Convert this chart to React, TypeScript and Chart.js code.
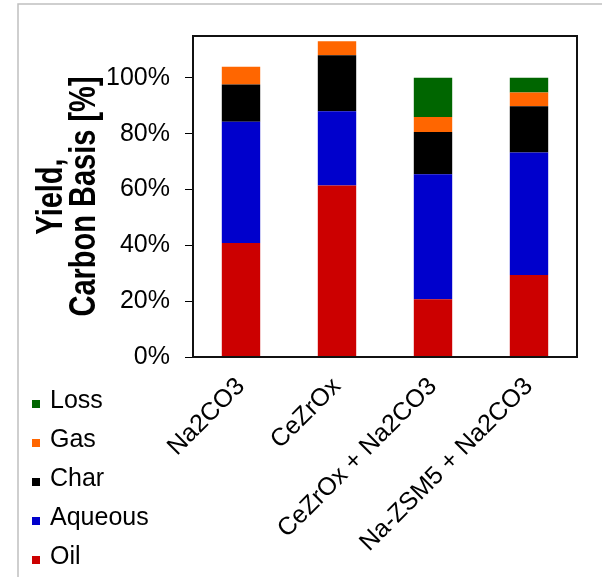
import React, { useEffect, useRef } from "react";
import { Chart, registerables } from "chart.js";

Chart.register(...registerables);

const categories = ["Na2CO3", "CeZrOx", "CeZrOx + Na2CO3", "Na-ZSM5 + Na2CO3"];
const oil = [40.8, 61.4, 20.7, 29.4];
const aqueous = [43.5, 26.6, 44.8, 43.9];
const char = [13.3, 20.1, 15.1, 16.5];
const gas = [6.4, 5.0, 5.4, 5.0];
const loss = [0, 0, 14.0, 5.2];
const yTicks = [0, 20, 40, 60, 80, 100];
const yTitleLines = ["Yield,", "Carbon Basis [%]"];

const FONT = "Arial, 'Liberation Sans', Helvetica, sans-serif";

const framePlugin = {
  id: "frame",
  beforeDraw(chart: any) {
    const ctx = chart.ctx;
    ctx.save();
    ctx.fillStyle = "#ffffff";
    ctx.fillRect(0, 0, chart.width, chart.height);
    ctx.strokeStyle = "#c0c0c0";
    ctx.lineWidth = 1.5;
    ctx.beginPath();
    ctx.moveTo(18, chart.height);
    ctx.lineTo(18, 4);
    ctx.lineTo(chart.width, 4);
    ctx.stroke();
    ctx.restore();
  },
  afterDraw(chart: any) {
    const ctx = chart.ctx;
    const a = chart.chartArea;
    ctx.save();
    // plot border
    ctx.strokeStyle = "#111111";
    ctx.lineWidth = 2;
    ctx.strokeRect(a.left, a.top, a.right - a.left, a.bottom - a.top);
    // y axis title (two lines, rotated)
    const cy = (a.top + a.bottom) / 2;
    const baselines = [62, 95];
    ctx.fillStyle = "#000000";
    ctx.font = `bold 29px ${FONT}`;
    ctx.textAlign = "center";
    ctx.textBaseline = "alphabetic";
    yTitleLines.forEach((t, i) => {
      ctx.save();
      ctx.translate(baselines[i], cy);
      ctx.rotate(-Math.PI / 2);
      ctx.scale(1, 1.3);
      ctx.fillText(t, 0, 0);
      ctx.restore();
    });
    // legend (reverse order, bottom-left)
    const ds = chart.data.datasets;
    ctx.font = `25px ${FONT}`;
    ctx.textAlign = "left";
    for (let k = 0; k < ds.length; k++) {
      const d = ds[ds.length - 1 - k];
      const base = a.bottom + 51 + k * 39;
      ctx.fillStyle = d.backgroundColor;
      ctx.fillRect(32, base - 8, 8, 8);
      ctx.fillStyle = "#000000";
      ctx.fillText(d.label, 50, base);
    }
    ctx.restore();
  },
};

export default function App() {
  const ref = useRef<HTMLCanvasElement | null>(null);
  useEffect(() => {
    document.body.style.margin = "0";
    const canvas = ref.current;
    if (!canvas) return;
    const chart = new Chart(canvas, {
      type: "bar",
      data: {
        labels: categories,
        datasets: [
          { label: "Oil", data: oil, backgroundColor: "#CC0000" },
          { label: "Aqueous", data: aqueous, backgroundColor: "#0000CC" },
          { label: "Char", data: char, backgroundColor: "#000000" },
          { label: "Gas", data: gas, backgroundColor: "#FF6600" },
          { label: "Loss", data: loss, backgroundColor: "#006600" },
        ],
      },
      options: {
        responsive: false,
        animation: false,
        devicePixelRatio: 1,
        layout: { padding: { top: 36, right: 25, left: 0, bottom: 0 } },
        datasets: { bar: { barPercentage: 0.4, categoryPercentage: 1, borderWidth: 0 } },
        plugins: {
          legend: { display: false },
          tooltip: { enabled: false },
          title: { display: false },
        },
        scales: {
          x: {
            stacked: true,
            grid: { display: false },
            border: { display: false },
            ticks: {
              color: "#000000",
              font: { family: FONT, size: 25 },
              minRotation: 45,
              maxRotation: 45,
              padding: 7,
            },
            afterFit: (s: any) => {
              s.height = 220;
              s.paddingLeft = 0;
              s.paddingRight = 0;
            },
          },
          y: {
            stacked: true,
            min: 0,
            max: 115,
            grid: {
              display: true,
              drawOnChartArea: false,
              drawTicks: true,
              tickLength: 8,
              color: "#000000",
              lineWidth: 1,
            },
            border: { display: false },
            afterBuildTicks: (s: any) => {
              s.ticks = yTicks.map((v) => ({ value: v }));
            },
            ticks: {
              color: "#000000",
              font: { family: FONT, size: 25 },
              padding: 15,
              callback: (v: any) => `${v}%`,
            },
            afterFit: (s: any) => {
              s.width = 193;
            },
          },
        },
      },
      plugins: [framePlugin],
    });
    return () => chart.destroy();
  }, []);
  return (
    <div style={{ width: 602, height: 577 }}>
      <canvas ref={ref} width={602} height={577} style={{ display: "block" }} />
    </div>
  );
}
